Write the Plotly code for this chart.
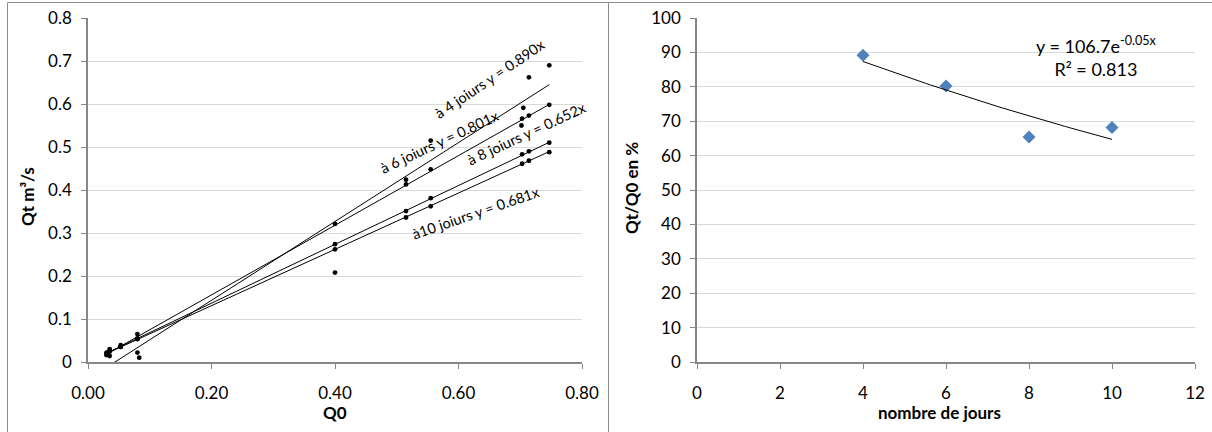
import numpy as np
import plotly.graph_objects as go

W, H = 1212, 432
FONT = "Lato"

# ---------------- data : left chart (Qt vs Q0) ----------------
q0_4j = [0.035, 0.080, 0.083, 0.400, 0.515, 0.555, 0.702, 0.705, 0.714, 0.747]
qt_4j = [0.014, 0.022, 0.010, 0.208, 0.424, 0.515, 0.550, 0.591, 0.662, 0.690]

q0_std = [0.030, 0.035, 0.053, 0.080, 0.400, 0.515, 0.555, 0.703, 0.714, 0.747]
qt_6j = [0.022, 0.030, 0.039, 0.065, 0.321, 0.413, 0.448, 0.566, 0.573, 0.598]
qt_8j = [0.018, 0.026, 0.035, 0.055, 0.274, 0.351, 0.381, 0.483, 0.490, 0.510]
qt_10j = [0.016, 0.024, 0.035, 0.053, 0.262, 0.336, 0.362, 0.461, 0.468, 0.488]

# trendline coefficients as drawn (slope, intercept)
trend_slope = [0.917, 0.810, 0.684, 0.655]
trend_icpt = [-0.040, -0.006, 0.000, 0.000]
trend_labels = ["à 4 joiurs y = 0.890x", "à 6 joiurs y = 0.801x",
                "à 8 joiurs y = 0.652x", "à10 joiurs y = 0.681x"]

left_xticks = [0.0, 0.2, 0.4, 0.6, 0.8]
left_xticktext = ["0.00", "0.20", "0.40", "0.60", "0.80"]
left_yticks = [0, 0.1, 0.2, 0.3, 0.4, 0.5, 0.6, 0.7, 0.8]
left_yticktext = ["0", "0.1", "0.2", "0.3", "0.4", "0.5", "0.6", "0.7", "0.8"]

# ---------------- data : right chart (Qt/Q0 vs days) ----------------
jours = [4, 6, 8, 10]
ratio_pct = [89.2, 80.2, 65.4, 68.2]
exp_a, exp_b = 106.7, -0.05
r2_text = "0.813"
right_xticks = [0, 2, 4, 6, 8, 10, 12]
right_yticks = [0, 10, 20, 30, 40, 50, 60, 70, 80, 90, 100]

# ---------------- figure ----------------
fig = go.Figure()

series = [(q0_4j, qt_4j), (q0_std, qt_6j), (q0_std, qt_8j), (q0_std, qt_10j)]
for (xs, ys), s, b in zip(series, trend_slope, trend_icpt):
    fig.add_trace(go.Scatter(x=xs, y=ys, mode="markers", xaxis="x", yaxis="y",
                             marker=dict(color="black", size=4.8), showlegend=False,
                             hoverinfo="skip"))
    x_line = np.array([min(xs), max(xs)])
    fig.add_trace(go.Scatter(x=x_line, y=s * x_line + b, mode="lines", xaxis="x", yaxis="y",
                             line=dict(color="black", width=1), showlegend=False,
                             hoverinfo="skip"))

fig.add_trace(go.Scatter(x=jours, y=ratio_pct, mode="markers", xaxis="x2", yaxis="y2",
                         marker=dict(symbol="diamond", color="#4F81BD", size=10),
                         showlegend=False, hoverinfo="skip"))
xt = np.linspace(min(jours), max(jours), 60)
fig.add_trace(go.Scatter(x=xt, y=exp_a * np.exp(exp_b * xt), mode="lines", xaxis="x2", yaxis="y2",
                         line=dict(color="black", width=1), showlegend=False, hoverinfo="skip"))

axis_common = dict(showline=True, linecolor="#868686", linewidth=1.5, ticks="outside",
                   ticklen=5, tickcolor="#868686", tickwidth=1, zeroline=False,
                   automargin=False,
                   tickfont=dict(family=FONT, size=17, color="black"))

ydom = [1 - 362 / H, 1 - 18 / H]
fig.update_layout(
    width=W, height=H, margin=dict(l=0, r=0, t=0, b=0, autoexpand=False),
    paper_bgcolor="white", plot_bgcolor="white",
    xaxis=dict(domain=[88 / W, 582 / W], range=[0, 0.8], tickvals=left_xticks,
               ticktext=left_xticktext, showgrid=False, anchor="y",
               ticklabelstandoff=10, **axis_common),
    yaxis=dict(domain=ydom, range=[0, 0.8], tickvals=left_yticks, ticktext=left_yticktext,
               showgrid=True, gridcolor="#d9d9d9", gridwidth=1, anchor="x",
               ticklabelstandoff=6, **axis_common),
    xaxis2=dict(domain=[697 / W, 1195 / W], range=[0, 12], tickvals=right_xticks,
                showgrid=False, anchor="y2", ticklabelstandoff=10, **axis_common),
    yaxis2=dict(domain=ydom, range=[0, 100], tickvals=right_yticks,
                showgrid=True, gridcolor="#d9d9d9", gridwidth=1, anchor="x2",
                ticklabelstandoff=6, **axis_common),
)

def pxx(v):
    return v / W

def pyy(v):
    return 1 - v / H

annots = []
title_font = dict(family=FONT, size=17, color="black")
annots.append(dict(text="<b>Q0</b>", x=pxx(335), y=pyy(412), xref="paper", yref="paper",
                   showarrow=False, font=title_font, xanchor="center", yanchor="middle"))
annots.append(dict(text="<b>Qt m³/s</b>", x=pxx(27), y=pyy(197), xref="paper", yref="paper",
                   showarrow=False, font=title_font, textangle=-90,
                   xanchor="center", yanchor="middle"))
annots.append(dict(text="<b>nombre de jours</b>", x=pxx(940), y=pyy(412), xref="paper", yref="paper",
                   showarrow=False, font=title_font, xanchor="center", yanchor="middle"))
annots.append(dict(text="<b>Qt/Q0 en %</b>", x=pxx(632), y=pyy(188), xref="paper", yref="paper",
                   showarrow=False, font=title_font, textangle=-90,
                   xanchor="center", yanchor="middle"))

# trendline labels (positions/angles as placed in the chart)
label_pos = [(0.651, 0.660, -34), (0.570, 0.513, -25), (0.710, 0.532, -25), (0.629, 0.348, -19)]
for txt, (lx, ly, ang) in zip(trend_labels, label_pos):
    annots.append(dict(text=txt, x=lx, y=ly, xref="x", yref="y", showarrow=False,
                       textangle=ang, font=dict(family=FONT, size=14.5, color="black"),
                       xanchor="center", yanchor="middle"))

annots.append(dict(text="y = %.1fe<sup>%.2fx</sup><br>R² = %s" % (exp_a, exp_b, r2_text),
                   x=pxx(1096), y=pyy(57), xref="paper", yref="paper", showarrow=False,
                   font=dict(family=FONT, size=18, color="black"), align="center",
                   xanchor="center", yanchor="middle"))
fig.update_layout(annotations=annots)

border = dict(color="#8c8c8c", width=1)
fig.update_layout(shapes=[
    dict(type="rect", xref="paper", yref="paper", x0=pxx(7.5), x1=pxx(608.5), y0=-0.2, y1=pyy(2.5),
         line=border, fillcolor="rgba(0,0,0,0)", layer="below"),
    dict(type="rect", xref="paper", yref="paper", x0=pxx(608.5), x1=1.2, y0=-0.2, y1=pyy(2.5),
         line=border, fillcolor="rgba(0,0,0,0)", layer="below"),
])

fig.write_html("out.html", config={"displayModeBar": False},
               post_script="document.body.style.margin='0';")
